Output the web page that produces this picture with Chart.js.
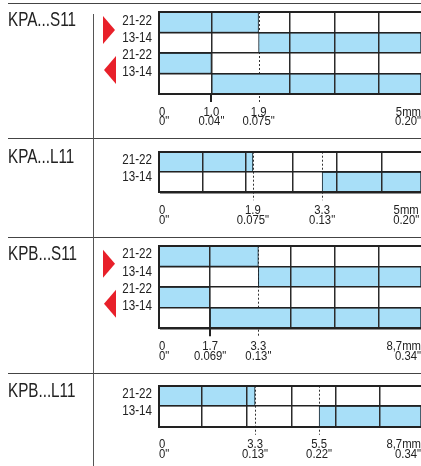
<!DOCTYPE html>
<html lang="en">
<head>
<meta charset="UTF-8">
<title>KPA / KPB travel diagrams</title>
<script src="https://cdn.jsdelivr.net/npm/chart.js"></script>
<style>
  body { margin: 0; background: #fff; }
  #page { position: relative; width: 421px; height: 466px; overflow: hidden; }
  canvas { position: absolute; left: 0; }
  .hline { position: absolute; left: 8px; right: 0; height: 1px; background: #444; }
  .vline { position: absolute; left: 93px; top: 14px; bottom: 0; width: 1px; background: #555; }
</style>
</head>
<body>
<div id="page">
  <canvas id="kpaS11" width="421" height="138" style="top:0px"></canvas>
  <canvas id="kpaL11" width="421" height="99" style="top:138px"></canvas>
  <canvas id="kpbS11" width="421" height="136" style="top:237px"></canvas>
  <canvas id="kpbL11" width="421" height="93" style="top:373px"></canvas>
  <div class="hline" style="top:3px"></div>
  <div class="hline" style="top:138px"></div>
  <div class="hline" style="top:237px"></div>
  <div class="hline" style="top:373px"></div>
  <div class="vline"></div>
</div>

<script>
// contact rows (forward stroke, then return stroke for the snap action types)
const fourRows = ['21-22', '13-14', '21-22', '13-14'];
const twoRows = ['21-22', '13-14'];

// closed ranges per row in mm, null = closed up to the end of the stroke
const kpaS11Ranges = [[0, 1.9], [1.9, null], [0, 1.0], [1.0, null]];
const kpaL11Ranges = [[0, 1.9], [3.3, null]];
const kpbS11Ranges = [[0, 3.3], [3.3, null], [0, 1.7], [1.7, null]];
const kpbL11Ranges = [[0, 3.3], [5.5, null]];

// travel ticks (mm) and their labels (mm / inch)
const kpaS11Ticks = [0, 1.0, 1.9, 5];
const kpaS11TickLabels = [['0', '0"'], ['1.0', '0.04"'], ['1.9', '0.075"'], ['5mm', '0.20"']];
const kpaL11Ticks = [0, 1.9, 3.3, 5];
const kpaL11TickLabels = [['0', '0"'], ['1.9', '0.075"'], ['3.3', '0.13"'], ['5mm', '0.20"']];
const kpbS11Ticks = [0, 1.7, 3.3, 8.7];
const kpbS11TickLabels = [['0', '0"'], ['1.7', '0.069"'], ['3.3', '0.13"'], ['8,7mm', '0.34"']];
const kpbL11Ticks = [0, 3.3, 5.5, 8.7];
const kpbL11TickLabels = [['0', '0"'], ['3.3', '0.13"'], ['5.5', '0.22"'], ['8,7mm', '0.34"']];

const FONT = '"Liberation Sans", Arial, sans-serif';
const BLUE = '#a8dff8';
const INK = '#222';
const VIEW_W = 421;

// text faces: size, horizontal and vertical squeeze (no condensed face installed)
const TITLE_FACE = { size: 19.5, sx: 0.78, sy: 1 };
const ROW_FACE = { size: 15.5, sx: 0.75, sy: 1 };
const TICK_FACE = { size: 14.5, sx: 0.78, sy: 0.87 };

// drawing of the grid cells, titles, arrows and labels
const panels = [
  { id: 'kpaS11', title: 'KPA...S11', rows: fourRows, ranges: kpaS11Ranges, ticks: kpaS11Ticks, labels: kpaS11TickLabels,
    max: 5, cells: [1.0, 2.5, 3.36, 4.2], top: 12, bottom: 44, titleY: 26 },
  { id: 'kpaL11', title: 'KPA...L11', rows: twoRows, ranges: kpaL11Ranges, ticks: kpaL11Ticks, labels: kpaL11TickLabels,
    max: 5.3, cells: [0.88, 1.76, 2.7, 3.6, 4.5], top: 13.7, bottom: 44.7, titleY: 24.7 },
  { id: 'kpbS11', title: 'KPB...S11', rows: fourRows, ranges: kpbS11Ranges, ticks: kpbS11Ticks, labels: kpbS11TickLabels,
    max: 8.7, cells: [1.7, 4.37, 5.85, 7.31], top: 8.7, bottom: 44.7, titleY: 23 },
  { id: 'kpbL11', title: 'KPB...L11', rows: twoRows, ranges: kpbL11Ranges, ticks: kpbL11Ticks, labels: kpbL11TickLabels,
    max: 9.0, cells: [1.48, 3.0, 4.55, 6.07, 7.59], top: 12.7, bottom: 39.3, titleY: 23.7 }
];

function useFace(ctx, face) {
  ctx.font = face.size + 'px ' + FONT;
}

function textWidth(ctx, t, face) {
  return ctx.measureText(t).width * face.sx;
}

// draws squeezed text with its left edge at x
function faceText(ctx, t, x, y, face) {
  ctx.save();
  ctx.translate(x, y);
  ctx.scale(face.sx, face.sy);
  ctx.textAlign = 'left';
  ctx.fillText(t, 0, 0);
  ctx.restore();
}

function makeDiagram(p) {
  return {
    id: 'diagram',
    beforeDatasetsDraw(chart) {
      // dashed travel marks, hidden under the blue bars
      const { ctx, chartArea: a } = chart;
      const x = chart.scales.x;
      ctx.save();
      ctx.strokeStyle = '#333';
      ctx.lineWidth = 1;
      ctx.setLineDash([2, 2]);
      p.ticks.forEach((v, i) => {
        if (i === 0 || i === p.ticks.length - 1 || p.cells.includes(v)) return;
        const px = Math.round(x.getPixelForValue(v)) + 0.5;
        ctx.beginPath();
        ctx.moveTo(px, a.top);
        ctx.lineTo(px, a.bottom + 8);
        ctx.stroke();
      });
      ctx.restore();
    },
    afterDraw(chart) {
      const { ctx, chartArea: a } = chart;
      const x = chart.scales.x;
      const n = p.rows.length;
      const rowH = (a.bottom - a.top) / n;
      ctx.save();

      // solid marks where a tick sits on a cell line
      ctx.strokeStyle = INK;
      ctx.lineWidth = 2;
      p.ticks.forEach((v, i) => {
        if (i === 0 || !p.cells.includes(v)) return;
        const px = Math.round(x.getPixelForValue(v));
        ctx.beginPath();
        ctx.moveTo(px, a.bottom);
        ctx.lineTo(px, a.bottom + 8);
        ctx.stroke();
      });

      // title
      ctx.fillStyle = INK;
      ctx.textBaseline = 'alphabetic';
      useFace(ctx, TITLE_FACE);
      faceText(ctx, p.title, 8, p.titleY, TITLE_FACE);

      // row labels, right aligned
      useFace(ctx, ROW_FACE);
      ctx.textBaseline = 'middle';
      p.rows.forEach((r, i) => {
        faceText(ctx, r, 152 - textWidth(ctx, r, ROW_FACE), a.top + rowH * (0.41 + 0.83 * i), ROW_FACE);
      });

      // direction arrows
      if (n === 4) {
        ctx.fillStyle = '#e8202a';
        let c = a.top + 18;
        ctx.beginPath();
        ctx.moveTo(103, c - 14); ctx.lineTo(115, c); ctx.lineTo(103, c + 14);
        ctx.closePath(); ctx.fill();
        c = a.top + 58;
        ctx.beginPath();
        ctx.moveTo(116, c - 14); ctx.lineTo(104, c); ctx.lineTo(116, c + 14);
        ctx.closePath(); ctx.fill();
      }

      // travel labels, two lines, kept inside the box width
      ctx.fillStyle = INK;
      useFace(ctx, TICK_FACE);
      ctx.textBaseline = 'alphabetic';
      p.ticks.forEach((v, i) => {
        const px = x.getPixelForValue(v);
        p.labels[i].forEach((t, j) => {
          const w = textWidth(ctx, t, TICK_FACE);
          let left = px - w / 2;
          if (left < a.left) left = a.left;
          if (left + w > VIEW_W) left = VIEW_W - w;
          faceText(ctx, t, left, a.bottom + 21.5 + 9.8 * j, TICK_FACE);
        });
      });
      ctx.restore();
    }
  };
}

panels.forEach(p => {
  new Chart(document.getElementById(p.id), {
    type: 'bar',
    data: {
      labels: p.rows,
      datasets: [{
        data: p.ranges.map(r => [r[0], r[1] === null ? p.max : r[1]]),
        backgroundColor: BLUE,
        borderColor: '#15232c',
        borderWidth: 1,
        borderSkipped: false,
        barPercentage: 1,
        categoryPercentage: 1
      }]
    },
    options: {
      indexAxis: 'y',
      responsive: false,
      animation: false,
      layout: { padding: { left: 159, right: 0, top: p.top, bottom: p.bottom } },
      plugins: { legend: { display: false }, tooltip: { enabled: false } },
      scales: {
        x: {
          type: 'linear', min: 0, max: p.max,
          afterFit: s => { s.height = 0; },
          afterBuildTicks: s => { s.ticks = p.cells.map(v => ({ value: v })); },
          ticks: { display: false },
          grid: { drawTicks: false, color: '#2b2b2b', lineWidth: 1.5, z: 1 },
          border: { display: true, color: INK, width: 2, z: 1 }
        },
        y: {
          afterFit: s => { s.width = 0; },
          ticks: { display: false },
          grid: {
            drawTicks: false, offset: true, z: 1, color: INK,
            lineWidth: c => (c.index === 0 || c.index === p.rows.length) ? 2 : 1.5
          },
          border: { display: true, color: INK, width: 2, z: 1 }
        }
      }
    },
    plugins: [makeDiagram(p)]
  });
});
</script>
</body>
</html>
